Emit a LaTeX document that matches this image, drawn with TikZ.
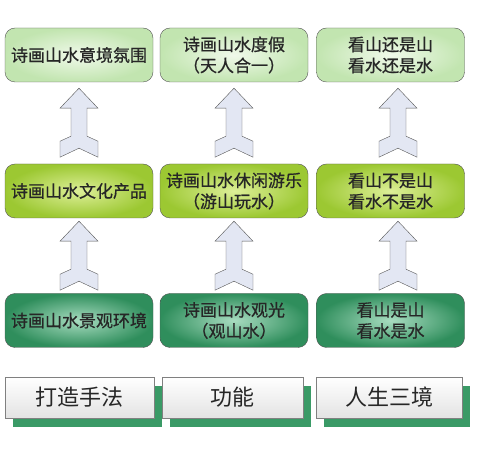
\documentclass[tikz,border=0pt]{standalone}
\usepackage{fontspec}
\newfontfamily\cjk{Noto Sans CJK SC}
\newfontfamily\cjkheavy[FakeBold=0.8]{Noto Sans CJK SC}
\usetikzlibrary{shadows}
\definecolor{paleedge}{HTML}{C2E5B0}
\definecolor{palecore}{HTML}{F0F9EA}
\definecolor{limeedge}{HTML}{9CC832}
\definecolor{limecore}{HTML}{DDEF98}
\definecolor{pineedge}{HTML}{2F8E5C}
\definecolor{pinecore}{HTML}{A8DCC0}
\definecolor{shadowgreen}{HTML}{3A9A66}
\definecolor{arrowfill}{HTML}{E3E7F3}
\definecolor{edgegray}{HTML}{555555}
\tikzstyle{stage} = [rectangle, rounded corners=10pt, minimum width=148pt, minimum height=54pt, inner sep=2pt, text centered, align=center, draw=edgegray, text=black!85, font=\cjkheavy\fontsize{17}{21}\selectfont]
\tikzstyle{toprow} = [stage, inner color=palecore, outer color=paleedge]
\tikzstyle{midrow} = [stage, inner color=limecore, outer color=limeedge]
\tikzstyle{baserow} = [stage, inner color=pinecore, outer color=pineedge]
\tikzstyle{rowhead} = [rectangle, minimum height=41pt, text centered, draw=gray, top color=white, bottom color=gray!22, text=black!85, font=\cjk\fontsize{22}{26}\selectfont, drop shadow={shadow xshift=8pt, shadow yshift=-9pt, fill=shadowgreen, opacity=1}]
\tikzstyle{uparrow} = [draw=edgegray, fill=arrowfill, line join=miter]
% block arrow with a notched tail, tip at the given point
\newcommand{\liftarrow}[1]{\draw[uparrow, shift={(#1)}] (0,0) -- (19,-20) -- (8,-20) -- (8,-48) -- (19,-53) -- (19,-69) -- (0,-60) -- (-19,-69) -- (-19,-53) -- (-8,-48) -- (-8,-20) -- (-19,-20) -- cycle;}

\begin{document}
\begin{tikzpicture}[x=1pt, y=1pt, node distance=155pt]
\useasboundingbox (0,0) rectangle (480,453);

% Highest stage
\node (t1) [toprow] at (79,398) {诗画山水意境氛围};
\node (t2) [toprow, right of=t1] {诗画山水度假\\（天人合一）};
\node (t3) [toprow, right of=t2, xshift=1.5pt] {看山还是山\\看水还是水};

% Middle stage
\node (m1) [midrow, below of=t1, yshift=19pt] {诗画山水文化产品};
\node (m2) [midrow, right of=m1] {诗画山水休闲游乐\\（游山玩水）};
\node (m3) [midrow, right of=m2, xshift=1.5pt] {看山不是山\\看水不是水};

% Base stage
\node (b1) [baserow, below of=m1, yshift=25.5pt] {诗画山水景观环境};
\node (b2) [baserow, right of=b1] {诗画山水观光\\（观山水）};
\node (b3) [baserow, right of=b2, xshift=1.5pt] {看山是山\\看水是水};

% Column headings
\node (h1) [rowhead, minimum width=149pt, below of=b1, yshift=78pt, xshift=0.5pt] {打造手法};
\node (h2) [rowhead, minimum width=141pt, right of=h1, xshift=-2pt] {功能};
\node (h3) [rowhead, minimum width=146pt, right of=h2, xshift=1.5pt] {人生三境};

% Arrows between stages
\coordinate (a1) at ([yshift=-6pt]t1.south);
\coordinate (a2) at ([yshift=-6pt]t2.south);
\coordinate (a3) at ([xshift=7.5pt, yshift=-6pt]t3.south);
\coordinate (c1) at ([yshift=-3pt]m1.south);
\coordinate (c2) at ([yshift=-3pt]m2.south);
\coordinate (c3) at ([xshift=7.5pt, yshift=-3pt]m3.south);
\liftarrow{a1}
\liftarrow{a2}
\liftarrow{a3}
\liftarrow{c1}
\liftarrow{c2}
\liftarrow{c3}
\end{tikzpicture}
\end{document}
